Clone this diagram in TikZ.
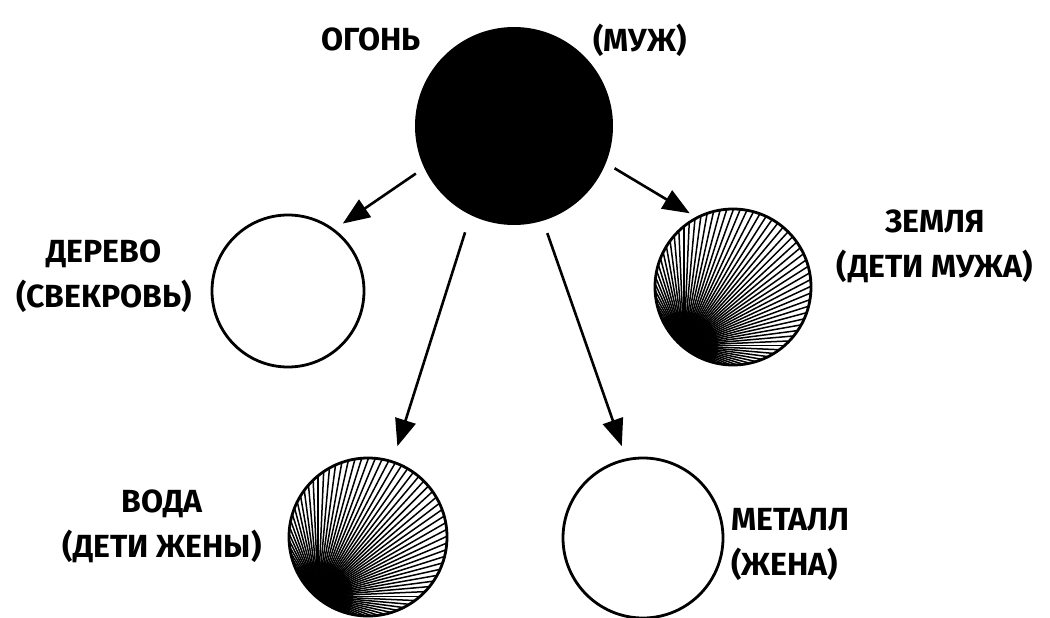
\documentclass[tikz,border=0pt]{standalone}
\usepackage{fontspec}
\setmainfont{Fira Sans}
\usetikzlibrary{arrows.meta,calc}
\begin{document}
\begin{tikzpicture}[x=1pt,y=-1pt,
  ring/.style={circle, draw=black, line width=2.8pt, minimum size=#1, inner sep=0pt},
  hatched/.style={ring=#1, path picture={
      \coordinate (F) at ($(path picture bounding box.center)+(230:0.49*#1)$);
      \fill[black!85] (F) circle[radius=0.22*#1];
      \foreach \a in {0,2.5,...,357.5} \draw[line width=1.5pt] (F) -- ++(\a:320pt);
    }},
  lbl/.style={font=\fontsize{32}{45}\selectfont\bfseries, inner sep=0pt},
  arr/.style={line width=2.6pt, -{Triangle[length=27pt,width=21pt]}}]
\path[use as bounding box] (0,0) rectangle (1050,618);
% circles
\node[circle, fill=black, minimum size=198pt, inner sep=0pt] (fire) at (514,126) {};
\node[ring=152pt] (wood) at (288,291) {};
\node[hatched=156pt] (earth) at (733,287) {};
\node[hatched=158pt] (water) at (368,537) {};
\node[ring=160pt] (metal) at (643,538) {};
% arrows
\draw[arr, shorten <=10pt, shorten >=10pt] (fire.205) -- (wood.53);
\draw[arr, shorten <=10pt, shorten >=7pt] (fire.338) -- (earth.118);
\draw[arr, shorten <=18pt, shorten >=15pt] (fire.244) -- (water.72);
\draw[arr, shorten <=13pt, shorten >=13pt] (fire.287) -- (metal.102);
% labels
\node[lbl] (lfire) at (371,39) {ОГОНЬ};
\node[lbl] (lmuzh) at (640,40) {(МУЖ)};
\node[lbl, align=center] (lwood) at (104,276) {ДЕРЕВО\\(СВЕКРОВЬ)};
\node[lbl, align=center] (learth) at (935,246) {ЗЕМЛЯ\\(ДЕТИ МУЖА)};
\node[lbl, align=center] (lwater) at (162,526) {ВОДА\\(ДЕТИ ЖЕНЫ)};
\node[lbl, align=left, anchor=west] (lmetal) at (731,544) {МЕТАЛЛ\\(ЖЕНА)};
\end{tikzpicture}
\end{document}
